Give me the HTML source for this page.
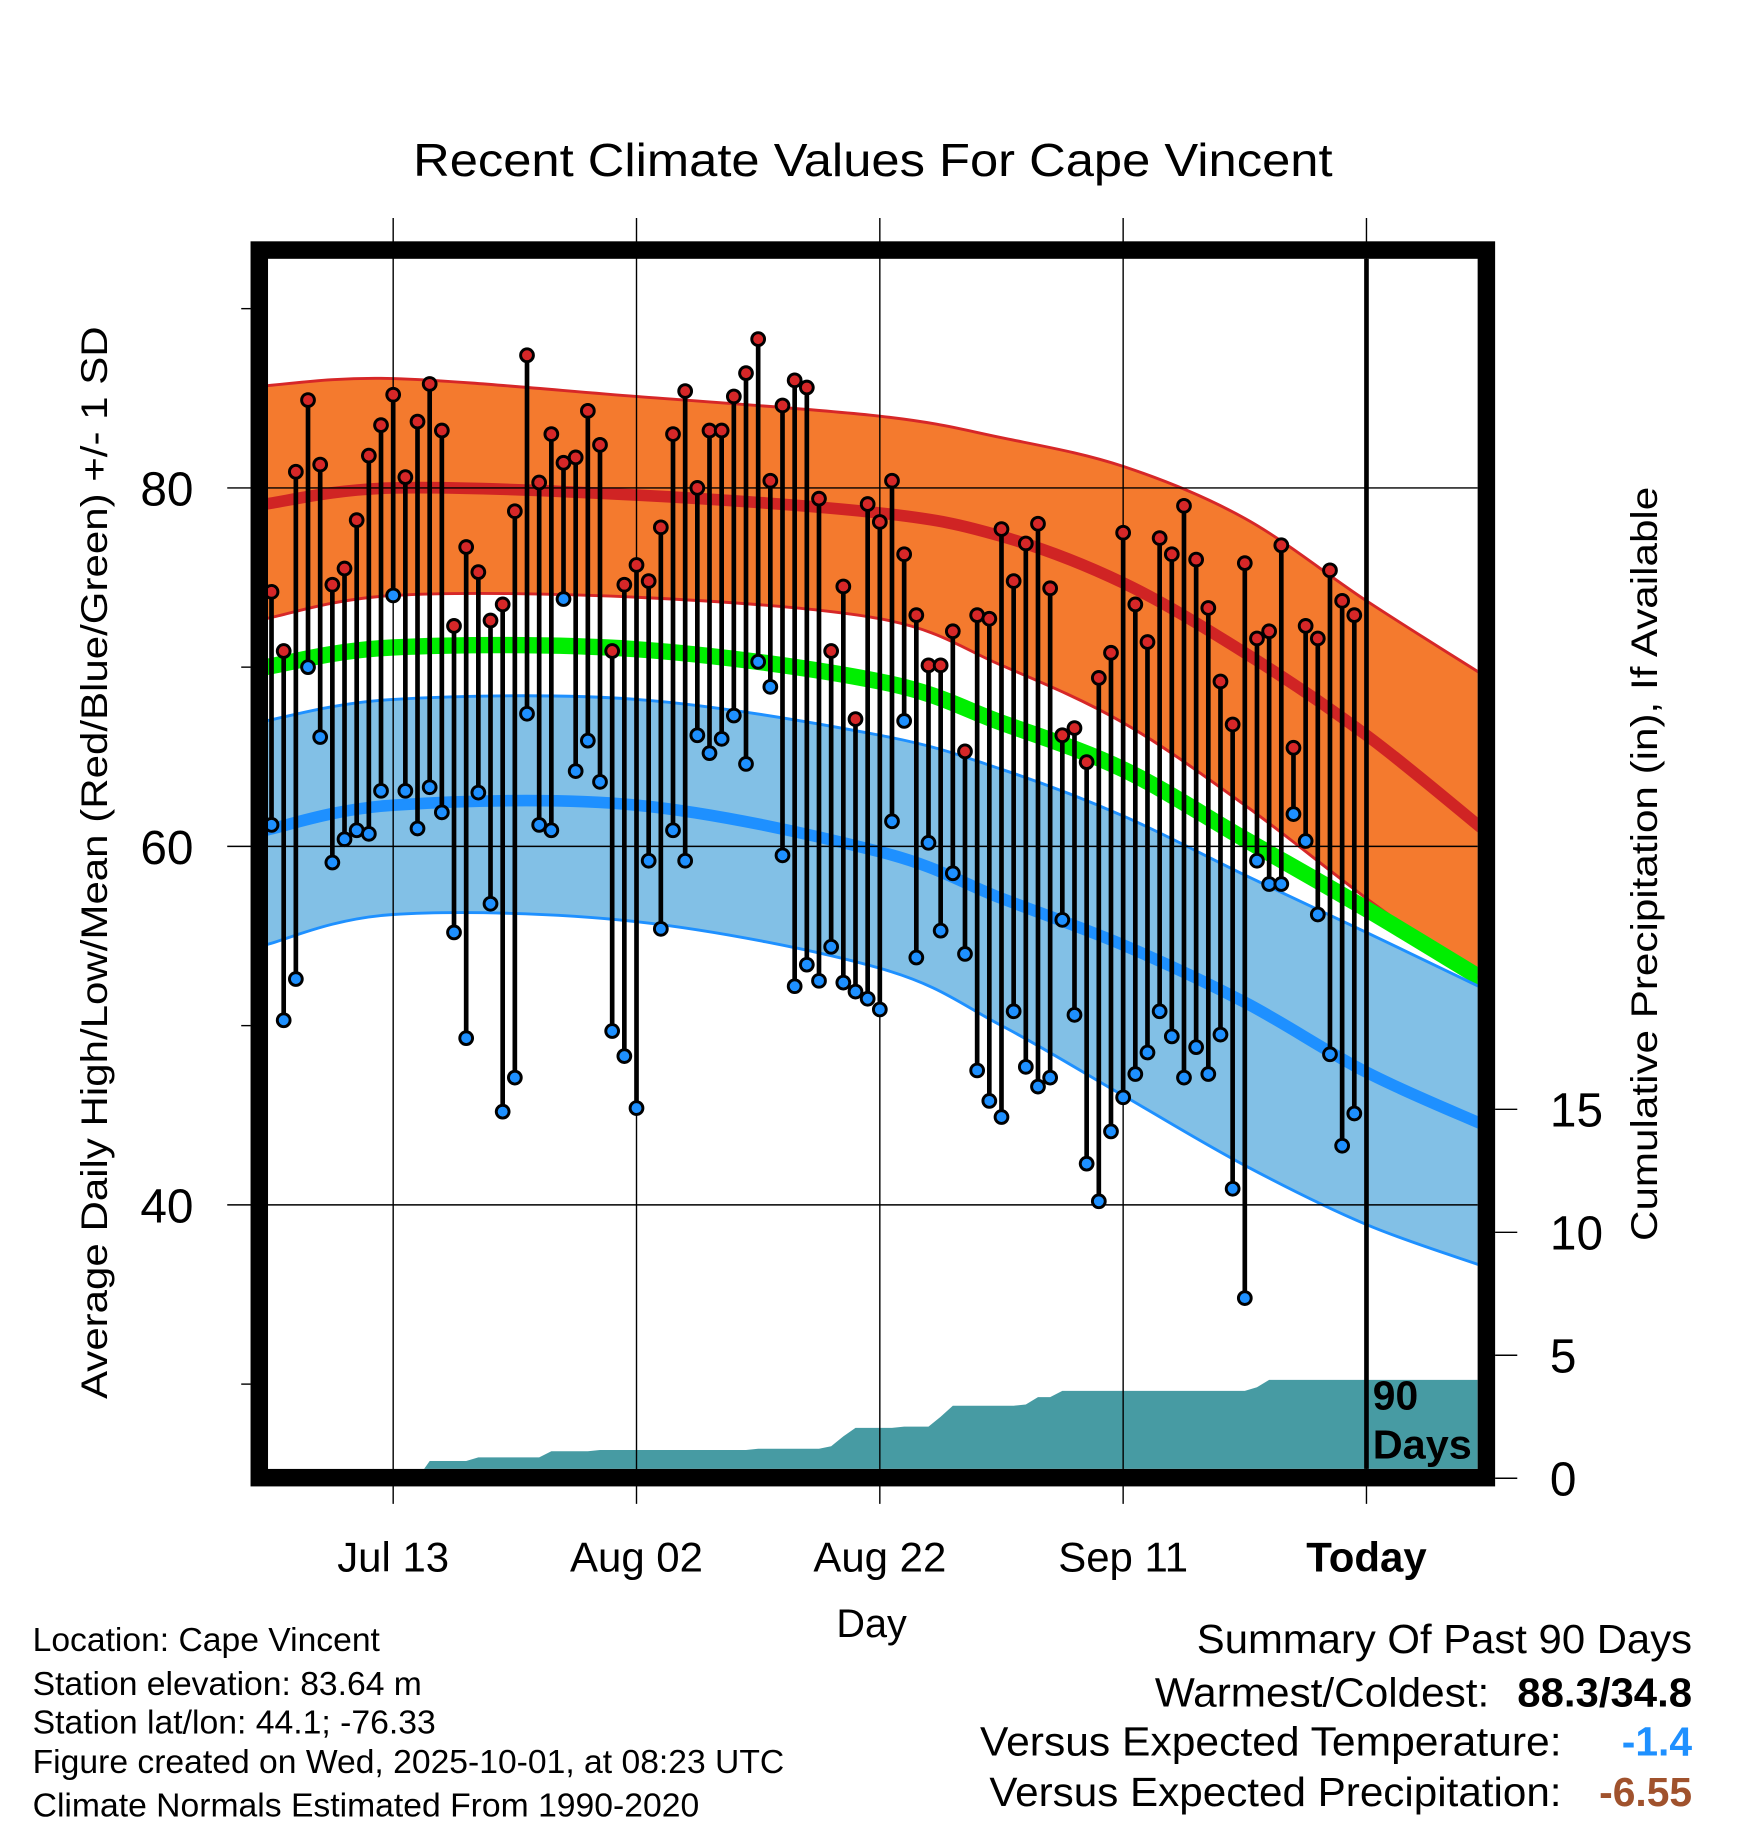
<!DOCTYPE html>
<html><head><meta charset="utf-8"><style>
html,body{margin:0;padding:0;background:#fff;}
svg{display:block;font-family:"Liberation Sans",Arial,sans-serif;}
</style></head><body>
<svg id="chart" width="1748" height="1828" viewBox="0 0 1500 1568" preserveAspectRatio="none" xmlns="http://www.w3.org/2000/svg">
<text x="749" y="151" font-size="40" text-anchor="middle" textLength="789" lengthAdjust="spacingAndGlyphs">Recent Climate Values For Cape Vincent</text>
<defs><clipPath id="plotclip"><rect x="230" y="222" width="1038" height="1038"/></clipPath></defs>
<g id="bands" clip-path="url(#plotclip)"></g>
<g id="precip" clip-path="url(#plotclip)"></g>
<g id="grid"></g>
<g id="marks" clip-path="url(#plotclip)"></g>
<g id="axes"></g>
<rect x="222.5" y="214.5" width="1053" height="1053" fill="none" stroke="#000" stroke-width="15"/>
<text x="1178" y="1209" font-size="35" font-weight="bold">90</text>
<text x="1178" y="1251" font-size="35" font-weight="bold" textLength="85" lengthAdjust="spacingAndGlyphs">Days</text>
<text x="748" y="1404" font-size="34" text-anchor="middle">Day</text>
<text transform="translate(92,740) rotate(-90)" font-size="32" text-anchor="middle" textLength="920" lengthAdjust="spacingAndGlyphs">Average Daily High/Low/Mean (Red/Blue/Green) +/- 1 SD</text>
<text transform="translate(1422,741) rotate(-90)" font-size="32" text-anchor="middle" textLength="647" lengthAdjust="spacingAndGlyphs">Cumulative Precipitation (in), If Available</text>
<g font-size="28.5">
<text x="28" y="1416" textLength="298" lengthAdjust="spacingAndGlyphs">Location: Cape Vincent</text>
<text x="28" y="1454" textLength="334" lengthAdjust="spacingAndGlyphs">Station elevation: 83.64 m</text>
<text x="28" y="1487" textLength="346" lengthAdjust="spacingAndGlyphs">Station lat/lon: 44.1; -76.33</text>
<text x="28" y="1521" textLength="645" lengthAdjust="spacingAndGlyphs">Figure created on Wed, 2025-10-01, at 08:23 UTC</text>
<text x="28" y="1558" textLength="572" lengthAdjust="spacingAndGlyphs">Climate Normals Estimated From 1990-2020</text>
</g>
<g font-size="35">
<text x="1452" y="1418" text-anchor="end" textLength="425" lengthAdjust="spacingAndGlyphs">Summary Of Past 90 Days</text>
<text x="1278" y="1464" text-anchor="end" textLength="287" lengthAdjust="spacingAndGlyphs">Warmest/Coldest:</text>
<text x="1452" y="1464" text-anchor="end" font-weight="bold" textLength="150" lengthAdjust="spacingAndGlyphs">88.3/34.8</text>
<text x="1340" y="1506" text-anchor="end" textLength="499" lengthAdjust="spacingAndGlyphs">Versus Expected Temperature:</text>
<text x="1452" y="1506" text-anchor="end" font-weight="bold" fill="#1e90ff">-1.4</text>
<text x="1340" y="1549" text-anchor="end" textLength="491" lengthAdjust="spacingAndGlyphs">Versus Expected Precipitation:</text>
<text x="1452" y="1549" text-anchor="end" font-weight="bold" fill="#a0522d">-6.55</text>
</g>
</svg>
<script>
const normDays=[-0.5,10,30,50,60,70,80,90,99.5];
const hiUp=[85.7,86.1,85.1,84.0,82.8,81.2,78.3,73.7,69.6];
const hiMean=[79.1,80.0,79.6,78.6,77.3,74.7,70.8,66.2,61.0];
const hiDn=[72.7,74.0,73.9,72.7,70.1,66.9,62.3,57.1,52.5];
const meanT=[70.0,71.1,71.0,69.2,66.9,64.3,60.4,56.5,52.6];
const loUp=[67.0,68.2,68.2,66.2,64.3,61.7,58.4,55.2,52.1];
const loMean=[60.9,62.3,62.3,59.7,57.1,54.5,51.3,47.4,44.5];
const loDn=[54.5,56.2,55.8,53.2,50.0,46.1,42.2,38.9,36.6];
const highs=[74.2,70.9,80.9,84.9,81.3,74.6,75.5,78.2,81.8,83.5,85.2,80.6,83.7,85.8,83.2,72.3,76.7,75.3,72.6,73.5,78.7,87.4,80.3,83.0,81.4,81.7,84.3,82.4,70.9,74.6,75.7,74.8,77.8,83.0,85.4,80.0,83.2,83.2,85.1,86.4,88.3,80.4,84.6,86.0,85.6,79.4,70.9,74.5,67.1,79.1,78.1,80.4,76.3,72.9,70.1,70.1,72.0,65.3,72.9,72.7,77.7,74.8,76.9,78.0,74.4,66.2,66.6,64.7,69.4,70.8,77.5,73.5,71.4,77.2,76.3,79.0,76.0,73.3,69.2,66.8,75.8,71.6,72.0,76.8,65.5,72.3,71.6,75.4,73.7,72.9];
const lows=[61.2,50.3,52.6,70.0,66.1,59.1,60.4,60.9,60.7,63.1,74.0,63.1,61.0,63.3,61.9,55.2,49.3,63.0,56.8,45.2,47.1,67.4,61.2,60.9,73.8,64.2,65.9,63.6,49.7,48.3,45.4,59.2,55.4,60.9,59.2,66.2,65.2,66.0,67.3,64.6,70.3,68.9,59.5,52.2,53.4,52.5,54.4,52.4,51.9,51.5,50.9,61.4,67.0,53.8,60.2,55.3,58.5,54.0,47.5,45.8,44.9,50.8,47.7,46.6,47.1,55.9,50.6,42.3,40.2,44.1,46.0,47.3,48.5,50.8,49.4,47.1,48.8,47.3,49.5,40.9,34.8,59.2,57.9,57.9,61.8,60.3,56.2,48.4,43.3,45.1];
const precipCum=[0,0,0,0,0,0,0,0,0,0,0,0,0,0.7,0.7,0.7,0.7,0.85,0.85,0.85,0.85,0.85,0.85,1.1,1.1,1.1,1.1,1.15,1.15,1.15,1.15,1.15,1.15,1.15,1.15,1.15,1.15,1.15,1.15,1.15,1.2,1.2,1.2,1.2,1.2,1.2,1.3,1.7,2.05,2.05,2.05,2.05,2.1,2.1,2.1,2.5,2.95,2.95,2.95,2.95,2.95,2.95,3.0,3.3,3.3,3.55,3.55,3.55,3.55,3.55,3.55,3.55,3.55,3.55,3.55,3.55,3.55,3.55,3.55,3.55,3.55,3.7,4.0,4.0,4.0,4.0,4.0,4.0,4.0,4.0];
const xTickDays=[10,30,50,70,90];
const xTickLabels=["Jul 13","Aug 02","Aug 22","Sep 11","Today"];
const yTicks=[40,60,80];
const yMinor=[30,50,70,90];
const pTicks=[0,5,10,15];

const NS="http://www.w3.org/2000/svg";
const X=d=>233+d*10.44;
const Y=t=>726-(t-60)*15.375;
const PY=p=>1268-p*21.1;
function mk(tag,attrs,parent){const e=document.createElementNS(NS,tag);for(const k in attrs)e.setAttribute(k,attrs[k]);parent.appendChild(e);return e;}
function curve(days,vals){
  const p=days.map((d,i)=>[X(d),Y(vals[i])]);
  let s="M"+p[0][0]+","+p[0][1];
  for(let i=0;i<p.length-1;i++){
    const p0=p[Math.max(0,i-1)],p1=p[i],p2=p[i+1],p3=p[Math.min(p.length-1,i+2)];
    const c1=[p1[0]+(p2[0]-p0[0])/6,p1[1]+(p2[1]-p0[1])/6];
    const c2=[p2[0]-(p3[0]-p1[0])/6,p2[1]-(p3[1]-p1[1])/6];
    s+=` C${c1[0]},${c1[1]} ${c2[0]},${c2[1]} ${p2[0]},${p2[1]}`;
  }
  return s;
}
function revCurve(days,vals){return curve(days.slice().reverse(),vals.slice().reverse());}
const bands=document.getElementById('bands');
const ob=mk('path',{d:curve(normDays,hiUp)+" "+revCurve(normDays,hiDn).replace(/^M/," L")+" Z",fill:"#f47a2e",stroke:"none"},bands);


const bb=mk('path',{d:curve(normDays,loUp)+" "+revCurve(normDays,loDn).replace(/^M/," L")+" Z",fill:"#82c0e6",stroke:"none"},bands);


[[hiUp,"#d62728",2.5,'high-plus-sd-line'],[hiDn,"#d62728",2.5,'high-minus-sd-line'],[hiMean,"#d02424",10,'normal-high-line'],[meanT,"#00ee00",14,'normal-mean-line'],[loUp,"#1e90ff",2.5,'low-plus-sd-line'],[loDn,"#1e90ff",2.5,'low-minus-sd-line'],[loMean,"#1e90ff",10,'normal-low-line']].forEach(([v,c,w,n])=>{
  const l=mk('path',{d:curve(normDays,v),fill:"none",stroke:c,"stroke-width":w},bands);
  
  
});
const pg=document.getElementById('precip');
let pd=`M${X(0)-5},1268`;
precipCum.forEach((p,i)=>{pd+=` L${X(i)},${PY(p)}`;});
pd+=` L1268,${PY(precipCum[precipCum.length-1])} L1268,1268 Z`;
const pa=mk('path',{d:pd,fill:"#479ba3"},pg);


const grid=document.getElementById('grid');
xTickDays.forEach((d,i)=>{
  const isToday=xTickLabels[i]==="Today";
  const gl=mk('line',{x1:X(d),x2:X(d),y1:isToday?222:187,y2:isToday?1260:1290,stroke:"#000","stroke-width":isToday?4:1.2},grid);
  
  
  if(isToday){
    const tk=mk('line',{x1:X(d),x2:X(d),y1:187,y2:1290,stroke:"#000","stroke-width":1.2},grid);
    
    
  }
});
yTicks.forEach(t=>{
  const gl=mk('line',{x1:195,x2:1268,y1:Y(t),y2:Y(t),stroke:"#000","stroke-width":1.2},grid);
  
  
});
const mg=document.getElementById('marks');
highs.forEach((h,i)=>{
  const x=X(i);
  const ln=mk('line',{x1:x,x2:x,y1:Y(h),y2:Y(lows[i]),stroke:"#000","stroke-width":4},mg);
  
  
});
highs.forEach((h,i)=>{
  const x=X(i);
  const hc=mk('circle',{cx:x,cy:Y(h),r:5.5,fill:"#d62728",stroke:"#000","stroke-width":2.5},mg);
  
  
  const lc=mk('circle',{cx:x,cy:Y(lows[i]),r:5.5,fill:"#1e90ff",stroke:"#000","stroke-width":2.5},mg);
  
  
});
const ax=document.getElementById('axes');
xTickDays.forEach((d,i)=>{
  const t=mk('text',{x:X(d),y:1348,"font-size":36,"text-anchor":"middle","font-weight":xTickLabels[i]==="Today"?"bold":"normal"},ax);
  t.textContent=xTickLabels[i];
  
  
});
yTicks.forEach(v=>{
  const t=mk('text',{x:166,y:Y(v)+15,"font-size":41,"text-anchor":"end"},ax);
  t.textContent=v;
  
  
});
yMinor.forEach(v=>{
  const m=mk('line',{x1:207,x2:215,y1:Y(v),y2:Y(v),stroke:"#000","stroke-width":1.2},ax);
  
  
});
pTicks.forEach(p=>{
  const m=mk('line',{x1:1283,x2:1302,y1:PY(p),y2:PY(p),stroke:"#000","stroke-width":1.2},ax);
  
  
  const t=mk('text',{x:1330,y:PY(p)+15,"font-size":41},ax);
  t.textContent=p;
  
  
});
</script>
</body></html>
